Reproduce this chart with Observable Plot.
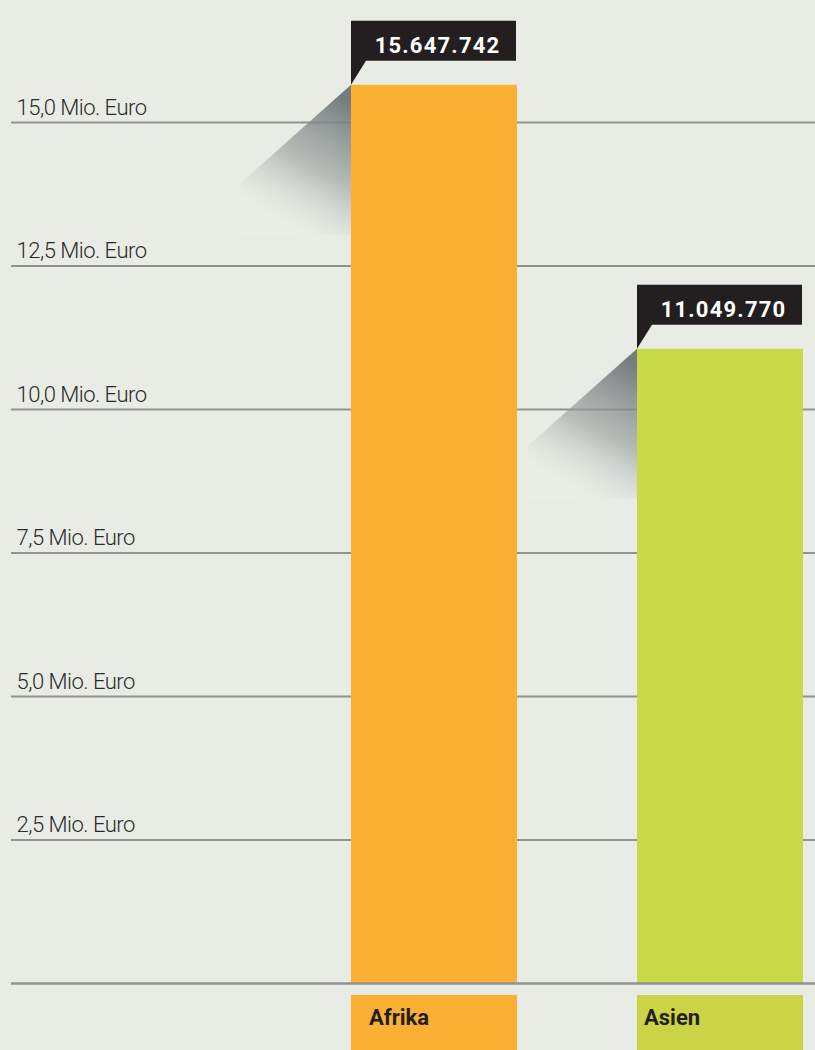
<!DOCTYPE html>
<html>
<head>
<meta charset="utf-8">
<script src="https://cdn.jsdelivr.net/npm/d3@7"></script>
<script src="https://cdn.jsdelivr.net/npm/@observablehq/plot@0.6"></script>
<style>
  html, body { margin: 0; padding: 0; background: #e9ece4; }
  #chart svg { display: block; }
</style>
</head>
<body>
<div id="chart"></div>
<script>
// ---- data ----
const categories = ["Afrika", "Asien"];
const values = [15647742, 11049770];
const valueLabels = ["15.647.742", "11.049.770"];
const yTicks = [2.5, 5, 7.5, 10, 12.5, 15];
const yTickLabels = ["2,5 Mio. Euro", "5,0 Mio. Euro", "7,5 Mio. Euro", "10,0 Mio. Euro", "12,5 Mio. Euro", "15,0 Mio. Euro"];

// ---- styles ----
const BG = "#e9ece4";
const barColors = ["#fbb034", "#c8da45"];
const labelBoxColors = ["#fbb034", "#cbd444"];
const catTextOffset = [18, 7];

const data = categories.map((c, i) => ({cat: c, value: values[i] / 1e6, label: valueLabels[i], color: barColors[i]}));

const plot = Plot.plot({
  width: 815,
  height: 1050,
  marginLeft: 11,
  marginRight: 0,
  marginTop: 122,
  marginBottom: 67,
  style: {background: BG, fontFamily: "Roboto, sans-serif", overflow: "visible"},
  x: {type: "band", domain: categories, range: [351, 803], paddingInner: 0.42, paddingOuter: 0, axis: null},
  y: {domain: [0, 15], axis: null},
  color: {type: "identity"},
  marks: [
    Plot.ruleY(yTicks, {y: d => d, stroke: "#909293", strokeWidth: 2}),
    Plot.text(yTicks, {
      y: d => d, text: (d, i) => yTickLabels[i], frameAnchor: "left", textAnchor: "start",
      lineAnchor: "bottom", dx: 5, dy: -8, fontSize: 22, fontWeight: 300, fill: "#2b2b2b"
    }),
    Plot.barY(data, {x: "cat", y: "value", fill: "color"}),
    Plot.ruleY([0], {stroke: "#909293", strokeWidth: 2.5}),
    Plot.text(data, {
      x: "cat", y: "value", text: "label", dx: 3, dy: -32, lineAnchor: "bottom",
      fill: "#ffffff", fontSize: 22, fontWeight: 700
    })
  ]
});

document.getElementById("chart").appendChild(plot);

// ---- decorations derived from the plot's own scales ----
const svg = d3.select(plot);
const xs = plot.scale("x");
const ys = plot.scale("y");
const bw = xs.bandwidth;
const ns = "http://www.w3.org/2000/svg";

const textGroups = plot.querySelectorAll('g[aria-label="text"]');
textGroups[0].setAttribute("letter-spacing", "-0.5");
textGroups[1].setAttribute("letter-spacing", "1.2");

const defs = svg.insert("defs", ":first-child");
const barGroup = plot.querySelector('g[aria-label="bar"]');
const shadowG = d3.select(plot.insertBefore(document.createElementNS(ns, "g"), barGroup));
const valueTextGroup = textGroups[1];
const boxG = d3.select(plot.insertBefore(document.createElementNS(ns, "g"), valueTextGroup));
const catG = svg.append("g").attr("text-anchor", "start");

data.forEach((d, i) => {
  const bx = xs.apply(d.cat);
  const ty = ys.apply(d.value);
  // shadow
  const gid = "shadowGrad" + i;
  const grad = defs.append("linearGradient").attr("id", gid)
    .attr("gradientUnits", "userSpaceOnUse")
    .attr("x1", bx - 5).attr("y1", ty + 15)
    .attr("x2", bx - 80).attr("y2", ty + 145);
  grad.append("stop").attr("offset", 0).attr("stop-color", "#6f7779").attr("stop-opacity", 0.95);
  grad.append("stop").attr("offset", 0.5).attr("stop-color", "#9ba1a0").attr("stop-opacity", 0.65);
  grad.append("stop").attr("offset", 1).attr("stop-color", BG).attr("stop-opacity", 0);
  shadowG.append("rect")
    .attr("x", bx - 110).attr("y", ty + 98).attr("width", 110).attr("height", 52)
    .attr("fill", "#ffffff").attr("opacity", 0.1);
  shadowG.append("path")
    .attr("d", `M${bx},${ty} L${bx - 110},${ty + 98} L${bx - 110},${ty + 150} L${bx},${ty + 150} Z`)
    .attr("fill", `url(#${gid})`);
  // value box with tail
  boxG.append("path")
    .attr("d", `M${bx},${ty - 64} H${bx + bw - 1} V${ty - 24} H${bx + 15} L${bx},${ty} Z`)
    .attr("fill", "#231f20");
  // category label box
  const y0 = ys.apply(0);
  catG.append("rect")
    .attr("x", bx).attr("y", y0 + 12).attr("width", bw).attr("height", 1050 - (y0 + 12))
    .attr("fill", labelBoxColors[i]);
  catG.append("text")
    .attr("x", bx + catTextOffset[i]).attr("y", y0 + 42)
    .attr("text-anchor", "start")
    .attr("font-family", "Roboto, sans-serif").attr("font-size", 22).attr("font-weight", 700)
    .attr("fill", "#231f20")
    .text(d.cat);
});
</script>
</body>
</html>
